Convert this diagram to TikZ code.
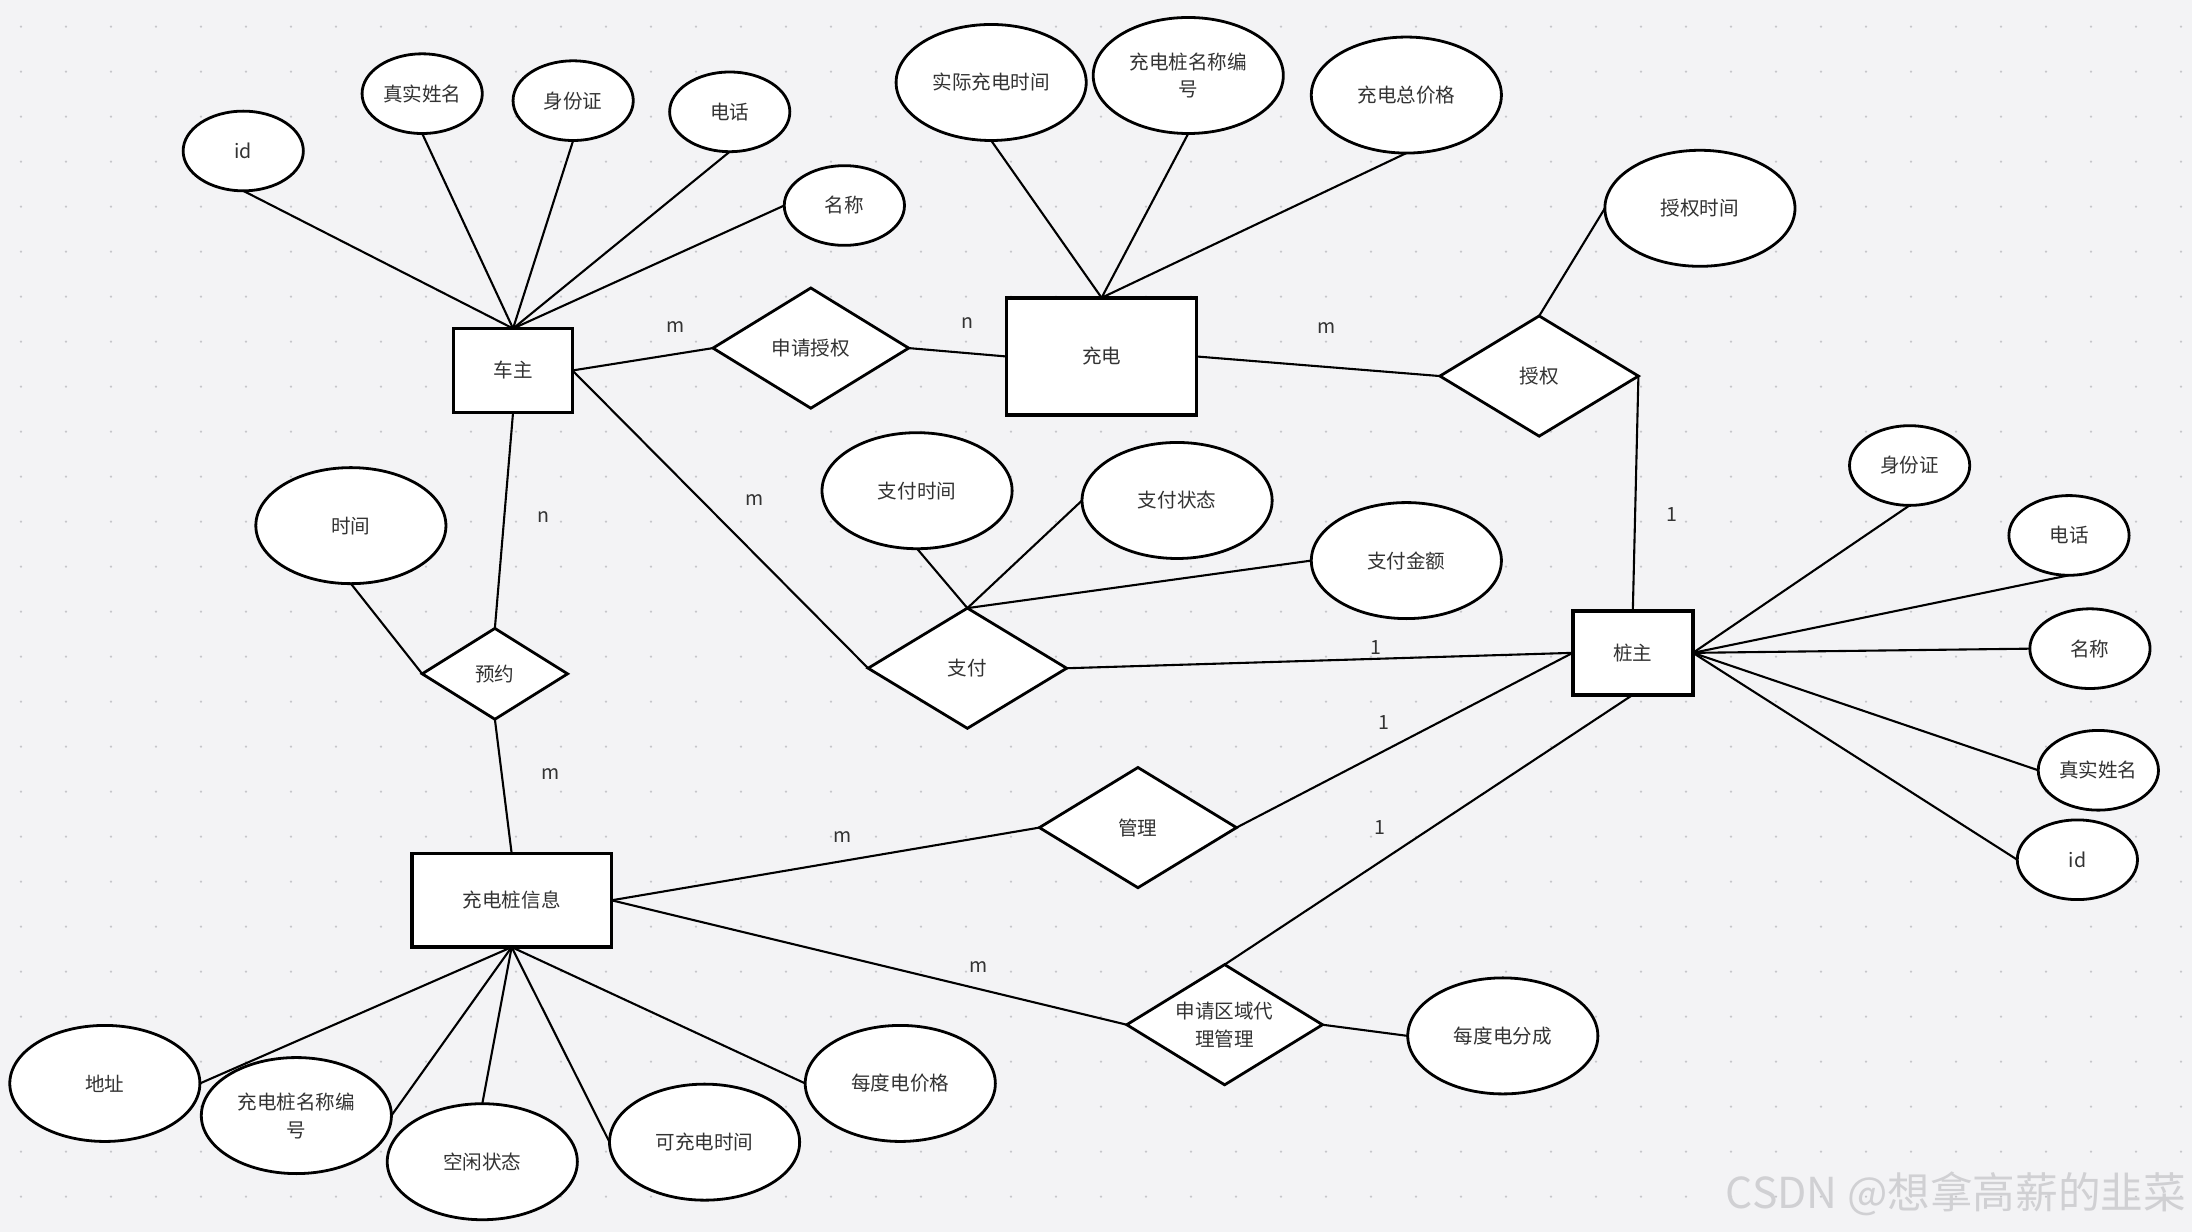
\documentclass[tikz,border=0pt]{standalone}
\usepackage{fontspec}
\setmainfont{Noto Sans CJK SC}
\usetikzlibrary{shapes.geometric}
\definecolor{bgc}{HTML}{F3F3F5}
\definecolor{dotc}{HTML}{C6C6CA}
\definecolor{txt}{HTML}{333333}
\definecolor{wm}{HTML}{D0D0D3}
\begin{document}
\begin{tikzpicture}[x=1pt,y=-1pt,
  every node/.style={font=\fontsize{14}{20}\selectfont, text=txt, outer sep=0pt},
  ent/.style={draw=black, fill=white, line width=2.6pt, rectangle, inner sep=0pt},
  attr/.style={draw=black, fill=white, line width=2pt, ellipse, inner sep=0pt, align=center},
  sattr/.style={attr, minimum width=86, minimum height=57},
  battr/.style={attr, minimum width=136, minimum height=83},
  rel/.style={draw=black, fill=white, line width=2pt, diamond, aspect=1.63, inner sep=0pt, align=center, minimum width=141, minimum height=86},
  conn/.style={line width=1.5pt, draw=black},
  card/.style={font=\fontsize{14}{16}\selectfont, inner sep=0pt}]
\fill[bgc] (0,0) rectangle (1568,881);
\useasboundingbox (0,0) rectangle (1568,881);
\foreach \i in {0,...,48} {\foreach \j in {0,...,27} {\fill[dotc] ({15+32.19*\i},{19+32.19*\j}) circle (0.9);}}

% entities
\node[ent, minimum width=85, minimum height=60] (cz) at (367,265) {车主};
\node[ent, minimum width=136, minimum height=84] (cd) at (788,255) {充电};
\node[ent, minimum width=86, minimum height=60] (zz) at (1168,467) {桩主};
\node[ent, minimum width=143, minimum height=67] (xx) at (366,644) {充电桩信息};

% relationships
\node[rel, minimum width=140] (sqsq) at (580,249) {申请授权};
\node[rel, minimum width=142] (sq) at (1101,269) {授权};
\node[rel, minimum width=142] (zf) at (692,478) {支付};
\node[rel, minimum width=104, minimum height=65] (yy) at (354,482) {预约};
\node[rel] (gl) at (814,592) {管理};
\node[rel, minimum width=140] (qy) at (876,733) {申请区域代\\理管理};

% attributes of 车主
\node[sattr] (czid) at (174,108) {id};
\node[sattr] (czxm) at (302,67) {真实姓名};
\node[sattr] (czsf) at (410,72) {身份证};
\node[sattr] (czdh) at (522,80) {电话};
\node[sattr] (czmc) at (604,147) {名称};

% attributes of 充电
\node[battr] (cdsj) at (709,59) {实际充电时间};
\node[battr] (cdbh) at (850,54) {充电桩名称编\\号};
\node[battr] (cdjg) at (1006,68) {充电总价格};

% 授权
\node[battr] (sqsj) at (1216,149) {授权时间};

% 预约
\node[battr] (yysj) at (251,376) {时间};

% 支付
\node[battr] (zfsj) at (656,351) {支付时间};
\node[battr] (zfzt) at (842,358) {支付状态};
\node[battr] (zfje) at (1006,401) {支付金额};

% 桩主
\node[sattr] (zzsf) at (1366,333) {身份证};
\node[sattr] (zzdh) at (1480,383) {电话};
\node[sattr] (zzmc) at (1495,464) {名称};
\node[sattr] (zzxm) at (1501,551) {真实姓名};
\node[sattr] (zzid) at (1486,615) {id};

% 充电桩信息
\node[battr] (xxdz) at (75,775) {地址};
\node[battr] (xxbh) at (212,798) {充电桩名称编\\号};
\node[battr] (xxzt) at (345,831) {空闲状态};
\node[battr] (xxsj) at (504,817) {可充电时间};
\node[battr] (xxjg) at (644,775) {每度电价格};

% 申请区域代理管理
\node[battr] (qyfc) at (1075,741) {每度电分成};

% connectors
\draw[conn] (cz.north) -- (czid.south);
\draw[conn] (cz.north) -- (czxm.south);
\draw[conn] (cz.north) -- (czsf.south);
\draw[conn] (cz.north) -- (czdh.south);
\draw[conn] (cz.north) -- (czmc.west);
\draw[conn] (cz.east) -- (sqsq.west);
\draw[conn] (sqsq.east) -- (cd.west);
\draw[conn] (cd.north) -- (cdsj.south);
\draw[conn] (cd.north) -- (cdbh.south);
\draw[conn] (cd.north) -- (cdjg.south);
\draw[conn] (cd.east) -- (sq.west);
\draw[conn] (sq.north) -- (sqsj.west);
\draw[conn] (sq.east) -- (zz.north);
\draw[conn] (cz.east) -- (zf.west);
\draw[conn] (zf.north) -- (zfsj.south);
\draw[conn] (zf.north) -- (zfzt.west);
\draw[conn] (zf.north) -- (zfje.west);
\draw[conn] (zf.east) -- (zz.west);
\draw[conn] (cz.south) -- (yy.north);
\draw[conn] (yy.west) -- (yysj.south);
\draw[conn] (yy.south) -- (xx.north);
\draw[conn] (xx.east) -- (gl.west);
\draw[conn] (gl.east) -- (zz.west);
\draw[conn] (xx.east) -- (qy.west);
\draw[conn] (qy.north) -- (zz.south);
\draw[conn] (qy.east) -- (qyfc.west);
\draw[conn] (zz.east) -- (zzsf.south);
\draw[conn] (zz.east) -- (zzdh.south);
\draw[conn] (zz.east) -- (zzmc.west);
\draw[conn] (zz.east) -- (zzxm.west);
\draw[conn] (zz.east) -- (zzid.west);
\draw[conn] (xx.south) -- (xxdz.east);
\draw[conn] (xx.south) -- (xxbh.east);
\draw[conn] (xx.south) -- (xxzt.north);
\draw[conn] (xx.south) -- (xxsj.west);
\draw[conn] (xx.south) -- (xxjg.west);

% cardinalities
\node[card] (c1) at (483,234) {m};
\node[card] (c2) at (692,231) {n};
\node[card] (c3) at (949,235) {m};
\node[card] (c4) at (1196,368) {1};
\node[card] (c5) at (540,358) {m};
\node[card] (c6) at (984,463) {1};
\node[card] (c7) at (389,370) {n};
\node[card] (c8) at (394,554) {m};
\node[card] (c9) at (603,599) {m};
\node[card] (c10) at (990,517) {1};
\node[card] (c11) at (700,692) {m};
\node[card] (c12) at (987,592) {1};

% watermark
\node[text=wm, font=\fontsize{30.5}{33}\selectfont, anchor=east] (wmk) at (1567,854) {CSDN @想拿高薪的韭菜};
\end{tikzpicture}
\end{document}
